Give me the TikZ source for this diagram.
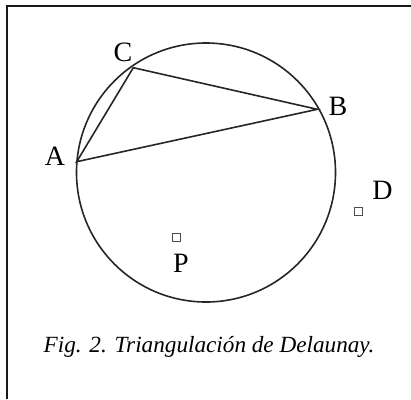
\documentclass[tikz,border=0pt]{standalone}
\usepackage{fontspec}
\setmainfont{Liberation Serif}
\begin{document}
\begin{tikzpicture}[x=1pt,y=-1pt,
  edge/.style={line width=1.6pt,draw=black!85},
  lbl/.style={inner sep=0pt,font=\fontsize{28}{28}\selectfont},
  pt/.style={draw=black!70,line width=1.3pt,minimum size=8pt,inner sep=0pt,rectangle},
  frame/.style={line width=2pt,draw=black!90}]
\useasboundingbox (0,0) rectangle (411,399);
\draw[frame] (6.5,399) -- (6.5,6) -- (411,6);
\coordinate (O) at (206,172.5);
\draw[edge] (O) circle[radius=129.5pt];
\coordinate (A) at (76.7,161.7);
\coordinate (C) at (133.3,67.7);
\coordinate (B) at (317.3,109.3);
\draw[edge] (A) -- (C) -- (B) -- cycle;
\node[lbl] (lA) at (55,156.5) {A};
\node[lbl] (lC) at (123,52.5) {C};
\node[lbl] (lB) at (338,106) {B};
\node[lbl] (lD) at (382.5,190) {D};
\node[lbl] (lP) at (181,263) {P};
\node[pt] (D) at (358.3,211.3) {};
\node[pt] (P) at (176.2,237.2) {};
\node[inner sep=0pt,font=\fontsize{23.2}{23.2}\selectfont\itshape] (cap) at (209,347) {Fig. 2. Triangulación de Delaunay.};
\end{tikzpicture}
\end{document}
